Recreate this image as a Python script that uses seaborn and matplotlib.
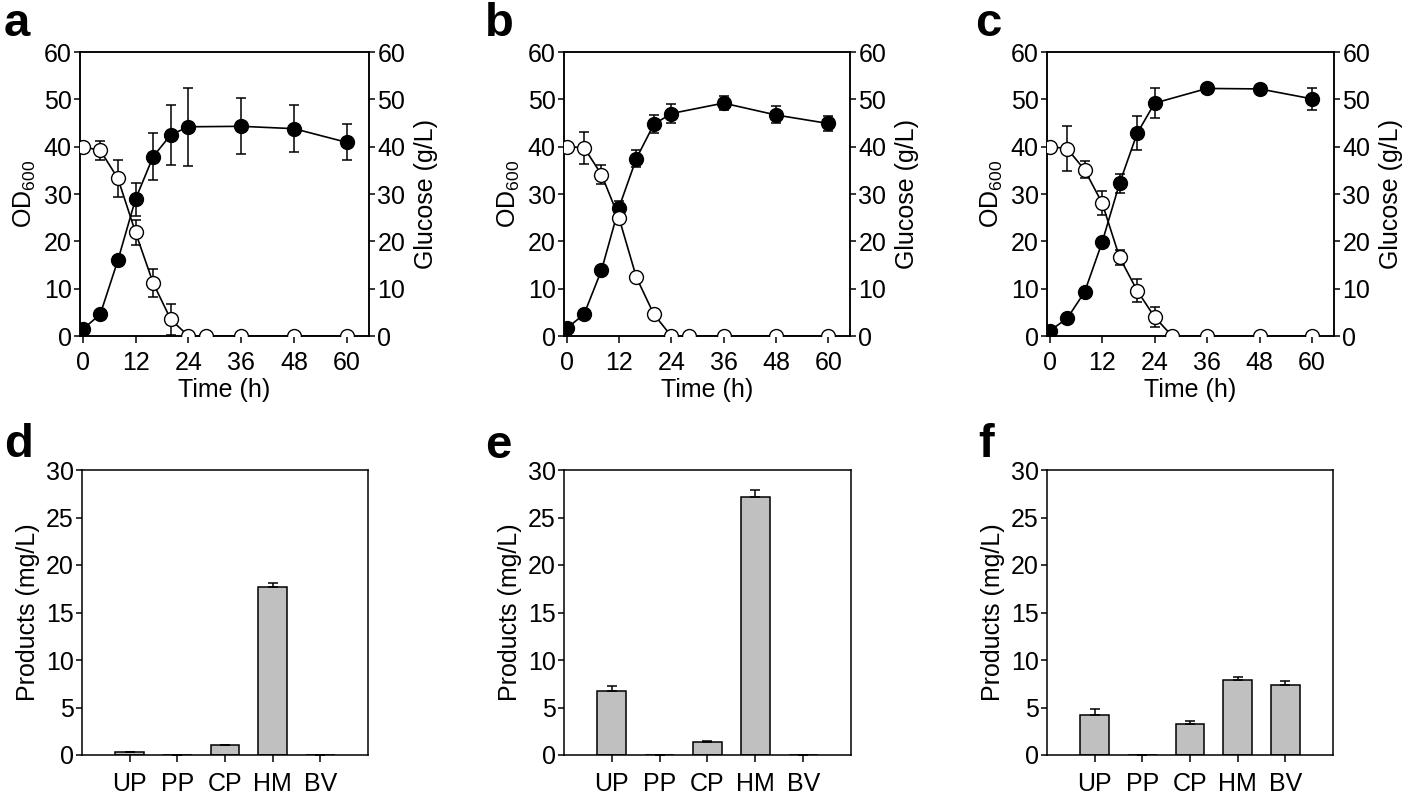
import numpy as np
import pandas as pd
import matplotlib
matplotlib.use("Agg")
import matplotlib.pyplot as plt
import seaborn as sns

# growth curves (a-c)
odTime = [0, 4, 8, 12, 16, 20, 24, 36, 48, 60]
glcTime = [0, 4, 8, 12, 16, 20, 24, 28, 36, 48, 60]

odA = [1.4, 4.6, 16.0, 28.9, 37.9, 42.5, 44.2, 44.3, 43.8, 40.9]
odAerr = [0.3, 0.5, 0.8, 3.5, 5.0, 6.3, 8.2, 5.9, 4.9, 3.8]
glcA = [40.0, 39.2, 33.3, 21.9, 11.2, 3.5, 0, 0, 0, 0, 0]
glcAerr = [0, 2.0, 3.9, 2.6, 3.0, 3.3, 0, 0, 0, 0, 0]

odB = [1.6, 4.6, 13.9, 27.1, 37.5, 44.7, 47.0, 49.2, 46.7, 44.9]
odBerr = [0.2, 0.3, 0.6, 1.5, 1.8, 1.9, 2.0, 1.4, 1.8, 1.6]
glcB = [40.0, 39.8, 34.1, 25.0, 12.4, 4.6, 0, 0, 0, 0, 0]
glcBerr = [0, 3.4, 2.0, 0.3, 0.3, 0.3, 0, 0, 0, 0, 0]

odC = [1.1, 3.7, 9.3, 19.8, 32.3, 42.8, 49.2, 52.3, 52.2, 50.1]
odCerr = [0.2, 0.3, 0.5, 0.5, 2.0, 3.6, 3.1, 0.8, 0.3, 2.3]
glcC = [40.0, 39.6, 35.1, 28.1, 16.6, 9.6, 4.0, 0, 0, 0, 0]
glcCerr = [0, 4.8, 1.8, 2.6, 1.6, 2.5, 2.1, 0, 0, 0, 0]

# products (d-f)
products = ["UP", "PP", "CP", "HM", "BV"]
prodD = [0.35, 0, 1.1, 17.7, 0]
prodDerr = [0, 0, 0, 0.45, 0]
prodE = [6.75, 0, 1.4, 27.2, 0]
prodEerr = [0.55, 0, 0.1, 0.7, 0]
prodF = [4.2, 0, 3.25, 7.9, 7.35]
prodFerr = [0.6, 0, 0.35, 0.3, 0.4]

sns.set_style("ticks")
plt.rcParams['font.family'] = ['Liberation Sans', 'DejaVu Sans']
plt.rcParams['mathtext.fontset'] = 'custom'
plt.rcParams['mathtext.rm'] = 'Liberation Sans'
plt.rcParams['mathtext.it'] = 'Liberation Sans'
plt.rcParams['axes.linewidth'] = 1.1
plt.rcParams['axes.edgecolor'] = 'black'
plt.rcParams['axes.labelcolor'] = 'black'
plt.rcParams['text.color'] = 'black'
plt.rcParams['xtick.color'] = 'black'
plt.rcParams['ytick.color'] = 'black'
plt.rcParams['xtick.direction'] = 'out'
plt.rcParams['ytick.direction'] = 'out'

FS = 18
W, H = 1418, 795


def axRect(left, top, right, bottom):
    return [left / W, (H - bottom) / H, (right - left) / W, (bottom - top) / H]


def growthPanel(fig, rect, od, odErr, glc, glcErr):
    ax = fig.add_axes(rect)
    ax2 = ax.twinx()

    ax.errorbar(odTime, od, yerr=odErr, fmt="none", ecolor="black",
                elinewidth=1.1, capsize=3.5, capthick=1.1, zorder=2)
    sns.lineplot(x=odTime, y=od, ax=ax, color="black", linewidth=1.2,
                 marker="o", markersize=10, markerfacecolor="black",
                 markeredgecolor="black", markeredgewidth=1.0, zorder=3)

    ax2.errorbar(glcTime, glc, yerr=glcErr, fmt="none", ecolor="black",
                 elinewidth=1.1, capsize=3.5, capthick=1.1, zorder=2)
    sns.lineplot(x=glcTime, y=glc, ax=ax2, color="black", linewidth=1.2,
                 marker="o", markersize=10, markerfacecolor="white",
                 markeredgecolor="black", markeredgewidth=1.0, zorder=3)

    for a in (ax, ax2):
        a.set_xlim(-0.6, 65)
        a.set_ylim(0, 60)
        a.set_yticks(range(0, 61, 10))
        a.tick_params(axis="y", labelsize=FS, length=4, width=1.1, pad=2)
        a.tick_params(axis="x", labelsize=FS, length=5, width=1.1, pad=6)
    ax.set_xticks(range(0, 61, 12))
    ax.set_xlabel("Time (h)", fontsize=FS, labelpad=2)
    ax.set_ylabel("OD$_{600}$", fontsize=FS, labelpad=4)
    ax2.set_ylabel("Glucose (g/L)", fontsize=FS, labelpad=6)
    for s in ax.spines.values():
        s.set_linewidth(1.1)
    return ax


def productPanel(fig, rect, vals, errs):
    ax = fig.add_axes(rect)
    df = pd.DataFrame({"product": products, "value": vals})
    sns.barplot(data=df, x="product", y="value", ax=ax, color="#c0c0c0",
                saturation=1, width=0.6, edgecolor="black", linewidth=1.1,
                errorbar=None)
    ax.errorbar(np.arange(len(products)), vals,
                yerr=[np.zeros(len(errs)), errs], fmt="none", ecolor="black",
                elinewidth=1.1, capsize=3.5, capthick=1.1)
    ax.set_xlim(-1, 5)
    ax.set_ylim(0, 30)
    ax.set_yticks(range(0, 31, 5))
    ax.tick_params(axis="y", labelsize=FS, length=4, width=1.1, pad=2)
    ax.tick_params(axis="x", labelsize=FS, length=5, width=1.1, pad=7)
    ax.set_xlabel("")
    ax.set_ylabel("Products (mg/L)", fontsize=FS, labelpad=4)
    for s in ax.spines.values():
        s.set_visible(True)
        s.set_linewidth(1.1)
    return ax


fig = plt.figure(figsize=(W / 100, H / 100), dpi=100)

growthPanel(fig, axRect(80, 52, 369, 336), odA, odAerr, glcA, glcAerr)
growthPanel(fig, axRect(564, 52, 850, 336), odB, odBerr, glcB, glcBerr)
growthPanel(fig, axRect(1047, 52, 1334, 336), odC, odCerr, glcC, glcCerr)

productPanel(fig, axRect(82, 470, 368, 755), prodD, prodDerr)
productPanel(fig, axRect(564, 470, 851, 755), prodE, prodEerr)
productPanel(fig, axRect(1047, 470, 1333, 755), prodF, prodFerr)

letters = [("a", 4, 36), ("b", 485, 36), ("c", 975, 36),
           ("d", 4, 457), ("e", 485, 458), ("f", 978, 457)]
for txt, x, y in letters:
    fig.text(x / W, 1 - y / H, txt, fontsize=34, fontweight="bold",
             ha="left", va="baseline")

fig.savefig("out.png", dpi=100)
